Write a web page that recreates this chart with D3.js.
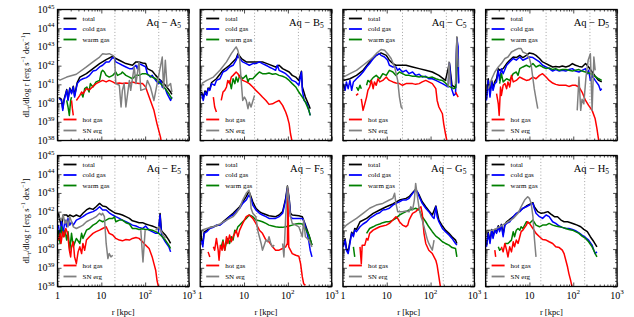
<!DOCTYPE html>
<html>
<head>
<meta charset="utf-8">
<script src="https://cdn.jsdelivr.net/npm/d3@7"></script>
<style>
body { margin: 0; background: #fff; }
text { font-family: "Liberation Serif", "DejaVu Serif", serif; }
</style>
</head>
<body>
<svg id="chart" width="634" height="317"></svg>
<script>
// halo names and R200 (kpc); dotted lines drawn at 0.1 R200 and R200
const panelNames = ["A", "B", "C", "D", "E", "F", "G", "H"];
const r200 = [204, 174, 229, 240, 204, 195, 195, 182];

// each point is [log10 r (kpc), log10 dL/dlog r (erg/s/dex)], null = gap
const totalL = [
  [[0.04,40.3],[0.09,40.2],[0.12,39.7],[0.15,40.2],[0.21,40.72],[0.24,40.2],[0.28,40.8],[0.32,40.55],[0.36,40.9],[0.39,40.4],[0.45,41.1],[0.51,41.39],[0.66,41.57],[0.81,41.84],[0.96,42.11],[1.11,42.32],[1.26,42.5],[1.33,42.38],[1.41,42.29],[1.56,42.11],[1.71,42.02],[1.79,42.2],[1.86,42.2],[1.94,42.14],[2.01,42.11],[2.05,41.84],[2.16,41.71],[2.24,41.48],[2.31,41.3],[2.39,41.13],[2.46,40.95],[2.58,40.59],[2.61,40.46]],
  [[0.03,40.6],[0.07,40.3],[0.11,40.65],[0.15,40.5],[0.18,40.8],[0.22,40.75],[0.26,41.1],[0.37,41.3],[0.52,41.75],[0.67,42.02],[0.82,42.38],[0.86,42.64],[0.94,42.38],[1.05,42.2],[1.27,42.2],[1.42,42.2],[1.57,42.07],[1.72,41.93],[1.80,42.02],[1.88,41.84],[2.03,41.66],[2.10,41.48],[2.18,41.39],[2.25,41.21],[2.31,41.7],[2.33,40.86],[2.40,40.32],[2.48,39.88],[2.51,39.7]],
  [[0.01,41.21],[0.16,41.3],[0.31,41.48],[0.46,41.75],[0.61,42.2],[0.76,42.55],[0.87,42.68],[0.99,42.55],[1.06,42.29],[1.14,42.11],[1.21,42.02],[1.29,42.02],[1.44,42.02],[1.59,41.93],[1.74,41.84],[1.89,41.75],[2.04,41.66],[2.19,41.48],[2.34,41.21],[2.43,42.15],[2.49,40.95],[2.57,40.82],[2.60,43.5],[2.64,41.1]],
  [[0.02,40.3],[0.06,41.3],[0.10,40.5],[0.14,41.2],[0.17,40.8],[0.21,41.15],[0.25,41.3],[0.29,41.84],[0.32,41.75],[0.40,41.84],[0.48,42.11],[0.55,42.29],[0.63,42.46],[0.70,42.43],[0.78,42.55],[0.85,42.43],[0.93,42.55],[1.00,42.68],[1.08,42.64],[1.15,42.55],[1.23,42.38],[1.30,42.2],[1.38,42.11],[1.45,42.02],[1.53,41.93],[1.60,41.96],[1.68,41.93],[1.75,41.98],[1.83,41.93],[1.90,41.98],[1.98,42.11],[2.05,42.02],[2.13,41.96],[2.20,41.93],[2.28,42.11],[2.35,41.93],[2.43,41.66],[2.50,41.43],[2.58,41.21],[2.65,41.13]],
  [[0.02,41.91],[0.09,41.19],[0.13,41.82],[0.21,41.82],[0.24,41.73],[0.28,41.82],[0.36,41.73],[0.43,41.82],[0.51,41.73],[0.58,41.91],[0.66,42.09],[0.73,42.18],[0.81,42.12],[0.88,42.26],[0.96,42.44],[1.03,42.3],[1.11,42.26],[1.18,42.12],[1.26,42.0],[1.33,41.91],[1.41,41.87],[1.48,41.82],[1.56,41.73],[1.64,41.64],[1.71,41.51],[1.79,41.46],[1.86,41.41],[1.94,41.41],[2.01,41.34],[2.09,41.28],[2.16,41.23],[2.24,41.16],[2.31,41.05],[2.34,41.9],[2.37,41.0],[2.39,40.93],[2.46,40.75],[2.54,40.48],[2.58,40.3]],
  [[0.01,41.01],[0.03,40.5],[0.06,40.3],[0.09,40.9],[0.15,41.0],[0.22,41.15],[0.30,41.2],[0.45,41.3],[0.52,41.46],[0.75,41.91],[0.90,42.26],[1.05,42.8],[1.11,43.1],[1.16,42.8],[1.20,42.53],[1.27,42.18],[1.35,42.0],[1.42,41.91],[1.57,41.78],[1.72,41.73],[1.80,41.82],[1.88,42.0],[1.95,42.71],[1.99,43.37],[2.03,42.71],[2.06,41.91],[2.10,41.82],[2.25,41.78],[2.33,41.73],[2.40,41.28],[2.48,40.75],[2.55,40.21]],
  [[0.01,40.2],[0.05,40.55],[0.08,40.05],[0.12,39.85],[0.16,40.4],[0.20,40.9],[0.24,40.75],[0.27,41.1],[0.31,41.05],[0.39,41.46],[0.54,41.64],[0.69,41.91],[0.84,42.09],[0.99,42.26],[1.14,42.41],[1.29,42.62],[1.44,42.71],[1.51,42.8],[1.59,43.01],[1.66,43.19],[1.74,42.89],[1.81,42.53],[1.89,42.26],[1.96,42.05],[2.04,41.82],[2.12,42.3],[2.19,41.55],[2.27,41.23],[2.34,41.01],[2.42,40.84],[2.49,40.66],[2.57,40.48],[2.60,40.3]],
  [[0.02,40.2],[0.06,40.9],[0.10,40.4],[0.14,41.05],[0.17,40.65],[0.21,41.05],[0.25,40.9],[0.29,41.25],[0.32,41.0],[0.36,41.32],[0.40,40.8],[0.44,41.32],[0.48,41.46],[0.63,41.73],[0.78,42.05],[0.93,42.3],[1.08,42.48],[1.11,42.26],[1.19,42.0],[1.27,41.91],[1.34,41.94],[1.42,42.0],[1.49,41.87],[1.57,41.73],[1.64,41.73],[1.72,41.55],[1.79,41.46],[1.87,41.46],[1.94,41.41],[2.02,41.34],[2.09,41.28],[2.17,41.19],[2.24,41.05],[2.32,40.93],[2.39,40.66],[2.47,40.39],[2.54,40.12]]
];

const coldL = [
  [[0.04,40.23],[0.09,40.14],[0.12,39.61],[0.15,40.14],[0.21,40.68],[0.24,40.14],[0.28,40.77],[0.32,40.5],[0.36,40.86],[0.39,40.32],[0.45,41.04],[0.51,41.21],[0.58,41.3],[0.66,41.36],[0.73,41.48],[0.81,41.71],[0.88,41.75],[0.96,41.93],[1.03,42.02],[1.11,42.2],[1.18,42.2],[1.26,42.43],[1.30,42.38],[1.33,42.2],[1.41,42.11],[1.48,42.02],[1.56,41.93],[1.64,41.84],[1.71,41.84],[1.79,42.02],[1.82,41.84],[1.86,42.11],[1.94,42.02],[2.01,41.93],[2.05,41.57],[2.12,41.39],[2.16,41.48],[2.24,41.21],[2.31,41.04],[2.35,41.21],[2.39,40.86],[2.46,40.77],[2.50,40.5],[2.58,40.14],[2.61,40.32]],
  [[0.03,40.5],[0.07,40.14],[0.11,40.59],[0.15,40.41],[0.18,40.77],[0.22,40.68],[0.26,41.04],[0.33,40.95],[0.37,41.21],[0.45,41.3],[0.52,41.66],[0.60,41.75],[0.67,41.93],[0.75,42.02],[0.82,42.29],[0.86,42.55],[0.90,42.38],[0.97,42.2],[1.05,42.11],[1.12,42.02],[1.20,42.11],[1.27,42.11],[1.35,42.2],[1.42,42.11],[1.50,42.02],[1.57,41.93],[1.65,41.84],[1.72,41.75],[1.76,42.02],[1.80,41.75],[1.88,41.66],[1.95,41.57],[2.03,41.39],[2.10,41.21],[2.18,41.13],[2.25,40.95],[2.31,41.66],[2.33,40.68],[2.37,40.14],[2.44,39.96],[2.51,39.34]],
  [[0.01,41.04],[0.05,40.68],[0.08,41.13],[0.12,40.77],[0.16,41.21],[0.20,40.68],[0.24,41.13],[0.31,41.3],[0.39,41.48],[0.46,41.66],[0.54,41.93],[0.61,42.11],[0.69,42.38],[0.76,42.55],[0.84,42.64],[0.87,42.55],[0.95,42.46],[1.02,42.29],[1.06,42.02],[1.14,41.93],[1.21,41.93],[1.25,41.75],[1.29,41.84],[1.36,41.66],[1.44,41.75],[1.51,41.57],[1.59,41.66],[1.66,41.48],[1.74,41.54],[1.81,41.39],[1.89,41.43],[1.96,41.3],[2.04,41.3],[2.12,41.21],[2.19,41.13],[2.27,41.04],[2.34,40.95],[2.40,40.86],[2.43,42.11],[2.48,40.77],[2.53,40.41],[2.57,40.5],[2.60,43.45],[2.63,43.0],[2.64,41.04]],
  [[0.02,40.14],[0.06,41.21],[0.10,40.32],[0.14,41.13],[0.17,40.68],[0.21,41.04],[0.25,41.13],[0.29,41.75],[0.32,41.21],[0.36,41.84],[0.40,41.57],[0.48,42.02],[0.55,42.2],[0.63,42.38],[0.70,42.29],[0.78,42.46],[0.85,42.29],[0.93,42.38],[1.00,42.46],[1.08,42.43],[1.15,42.32],[1.23,42.2],[1.30,42.02],[1.38,41.93],[1.45,41.84],[1.53,41.71],[1.60,41.79],[1.68,41.71],[1.75,41.75],[1.83,41.71],[1.90,41.79],[1.98,41.84],[2.05,41.71],[2.13,41.66],[2.20,41.75],[2.28,41.84],[2.32,41.57],[2.35,41.75],[2.39,41.21],[2.43,41.48],[2.50,41.21],[2.58,40.95],[2.62,40.68],[2.65,40.77]],
  [[0.02,41.28],[0.06,40.66],[0.09,41.46],[0.13,40.84],[0.17,41.55],[0.21,41.19],[0.24,41.64],[0.28,41.28],[0.32,41.46],[0.36,41.28],[0.43,41.55],[0.51,41.64],[0.58,41.73],[0.66,41.87],[0.73,41.94],[0.81,42.0],[0.88,42.09],[0.96,42.26],[1.03,42.09],[1.11,42.09],[1.18,41.94],[1.26,41.82],[1.33,41.73],[1.41,41.64],[1.48,41.55],[1.56,41.46],[1.64,41.37],[1.71,41.28],[1.79,41.23],[1.86,41.16],[1.94,41.1],[2.01,41.23],[2.09,41.01],[2.16,40.93],[2.24,40.84],[2.30,40.84],[2.34,41.82],[2.37,40.84],[2.39,40.66],[2.46,40.39],[2.54,40.12],[2.58,39.85]],
  [[0.03,40.48],[0.06,40.12],[0.09,40.84],[0.15,40.93],[0.22,41.1],[0.30,41.16],[0.37,41.28],[0.45,41.28],[0.52,41.41],[0.60,41.55],[0.67,41.73],[0.75,41.82],[0.82,42.0],[0.90,42.18],[0.97,42.44],[1.05,42.62],[1.11,42.89],[1.16,42.71],[1.20,42.35],[1.27,42.09],[1.35,41.91],[1.42,41.82],[1.50,41.73],[1.57,41.64],[1.65,41.64],[1.72,41.64],[1.80,41.73],[1.88,41.91],[1.95,42.62],[1.99,43.24],[2.03,42.62],[2.06,41.73],[2.10,41.64],[2.18,41.64],[2.25,41.64],[2.33,41.64],[2.37,41.46],[2.40,41.19],[2.44,40.84],[2.48,40.39],[2.51,39.94],[2.55,39.58]],
  [[0.01,40.12],[0.05,40.48],[0.08,39.94],[0.12,39.76],[0.16,40.3],[0.20,40.84],[0.24,40.66],[0.27,41.01],[0.31,40.93],[0.39,41.19],[0.46,41.34],[0.54,41.46],[0.61,41.64],[0.69,41.76],[0.76,41.87],[0.84,41.94],[0.91,42.09],[0.99,42.12],[1.06,42.18],[1.14,42.35],[1.21,42.44],[1.29,42.53],[1.36,42.62],[1.44,42.62],[1.51,42.71],[1.59,42.98],[1.66,43.15],[1.70,43.06],[1.74,42.8],[1.81,42.44],[1.89,42.18],[1.96,42.0],[2.04,41.73],[2.08,41.64],[2.12,42.26],[2.15,41.73],[2.19,41.46],[2.27,41.1],[2.34,40.93],[2.42,40.75],[2.49,40.57],[2.57,40.3],[2.60,40.21]],
  [[0.02,40.12],[0.06,40.84],[0.10,40.3],[0.14,41.01],[0.17,40.57],[0.21,41.01],[0.25,40.84],[0.29,41.19],[0.32,40.93],[0.36,41.28],[0.40,40.66],[0.44,41.28],[0.48,41.37],[0.55,41.46],[0.63,41.73],[0.70,41.91],[0.78,42.0],[0.85,42.18],[0.93,42.26],[1.00,42.35],[1.08,42.44],[1.11,42.18],[1.15,41.91],[1.23,41.73],[1.30,41.64],[1.38,41.82],[1.45,41.73],[1.53,41.46],[1.60,41.37],[1.68,41.23],[1.75,41.16],[1.83,41.1],[1.90,41.1],[1.98,41.05],[2.05,40.98],[2.13,40.87],[2.20,40.75],[2.28,40.62],[2.35,40.48],[2.43,40.21],[2.47,39.94],[2.50,39.76],[2.54,39.85]]
];

const warmL = [
  [[0.21,40.14],[0.24,39.79],[0.27,39.34],[0.30,40.14],[0.32,40.32],null,[0.55,40.5],[0.58,40.32],[0.62,40.77],[0.67,40.86],[0.72,40.59],[0.75,41.04],[0.81,40.86],[0.88,41.13],[0.96,41.21],[1.00,41.66],[1.03,41.75],[1.07,41.66],[1.11,41.48],[1.18,41.39],[1.26,41.48],[1.33,41.66],[1.37,41.48],[1.45,41.57],[1.48,41.66],[1.56,41.48],[1.64,41.39],[1.71,41.3],[1.79,41.48],[1.86,41.48],[1.94,41.57],[2.01,41.57],[2.09,41.48],[2.16,41.39],[2.24,41.3],[2.31,41.13],[2.39,40.95],[2.46,40.77],[2.54,40.5],[2.61,40.23]],
  [[0.67,41.21],[0.71,40.77],[0.75,41.3],[0.79,41.04],[0.82,41.39],[0.86,41.13],[0.90,41.48],[0.97,41.3],[1.05,41.48],[1.09,41.13],[1.12,41.3],[1.20,41.3],[1.27,41.48],[1.35,41.66],[1.42,41.57],[1.50,41.57],[1.57,41.61],[1.65,41.54],[1.72,41.57],[1.80,41.48],[1.88,41.43],[1.95,41.36],[2.03,41.21],[2.10,41.04],[2.18,40.86],[2.25,40.59],[2.33,40.32],[2.40,40.05],[2.48,39.61],[2.51,39.34]],
  [[0.31,40.86],[0.35,40.68],[0.39,40.95],[0.42,40.77],null,[0.54,40.95],[0.57,41.21],[0.61,41.13],[0.69,41.36],[0.76,41.48],[0.84,41.3],[0.91,41.57],[0.99,41.48],[1.06,41.75],[1.14,41.66],[1.21,41.48],[1.29,41.66],[1.36,41.57],[1.44,41.48],[1.51,41.48],[1.59,41.43],[1.66,41.43],[1.74,41.39],[1.81,41.43],[1.89,41.39],[1.96,41.36],[2.04,41.39],[2.12,41.3],[2.19,41.25],[2.27,41.21],[2.34,41.07],[2.42,40.89],[2.53,40.77],[2.57,40.82],[2.60,42.38],[2.63,42.29]],
  [[0.32,41.04],[0.36,41.57],[0.40,41.13],[0.48,41.3],[0.55,41.21],[0.63,41.57],[0.70,41.66],[0.74,41.48],[0.78,41.84],[0.85,41.93],[0.93,42.02],[1.00,41.93],[1.08,42.11],[1.15,41.93],[1.23,42.02],[1.30,41.93],[1.38,41.84],[1.45,41.88],[1.53,41.79],[1.60,41.84],[1.68,41.75],[1.75,41.79],[1.83,41.79],[1.90,41.75],[1.98,41.71],[2.05,41.75],[2.13,41.79],[2.20,41.71],[2.28,41.66],[2.35,41.61],[2.43,41.54],[2.50,41.43],[2.58,41.3],[2.65,41.21]],
  [[0.02,41.01],[0.06,40.3],[0.09,41.19],[0.13,40.66],[0.17,41.01],[0.21,40.48],[0.24,40.93],[0.28,39.94],[0.32,40.84],[0.36,40.12],[0.43,40.57],[0.51,40.3],[0.55,40.84],[0.58,40.57],[0.66,41.01],[0.73,41.1],[0.81,41.28],[0.88,41.37],[0.96,41.55],[1.03,41.46],[1.11,41.55],[1.18,41.64],[1.26,41.64],[1.30,41.73],[1.33,41.46],[1.41,41.55],[1.48,41.55],[1.56,41.41],[1.64,41.34],[1.71,41.1],[1.79,41.1],[1.86,41.05],[1.94,41.08],[2.01,41.05],[2.09,41.05],[2.16,41.01],[2.24,40.93],[2.31,40.84],[2.39,40.66],[2.46,40.48],[2.54,40.21],[2.58,40.03]],
  [[0.48,40.12],[0.52,40.48],[0.56,39.94],[0.60,40.39],[0.63,40.57],[0.67,40.3],[0.71,40.66],[0.75,40.48],[0.79,41.01],[0.82,40.93],[0.86,41.19],[0.90,41.28],[0.97,41.46],[1.05,41.64],[1.12,41.82],[1.20,41.73],[1.27,41.55],[1.35,41.51],[1.42,41.46],[1.50,41.37],[1.57,41.28],[1.65,41.23],[1.72,41.19],[1.80,41.16],[1.88,41.16],[1.95,41.19],[2.03,41.23],[2.10,41.28],[2.18,41.34],[2.25,41.37],[2.33,41.34],[2.40,41.1],[2.48,40.75],[2.55,40.21]],
  [[0.24,40.12],[0.27,39.58],null,[0.54,40.84],[0.61,41.1],[0.69,41.19],[0.76,41.28],[0.84,41.34],[0.91,41.41],[0.99,41.46],[1.06,41.46],[1.14,41.55],[1.21,41.64],[1.29,41.82],[1.36,41.91],[1.44,42.0],[1.51,42.09],[1.59,42.12],[1.66,42.18],[1.74,42.09],[1.81,41.73],[1.89,41.46],[1.96,41.19],[2.04,40.93],[2.12,40.69],[2.19,40.57],[2.27,40.39],[2.34,40.3],[2.42,40.21],[2.49,40.08],[2.57,40.03],[2.60,39.58]],
  [[0.29,40.12],[0.32,39.94],[0.36,40.03],null,[0.44,40.3],[0.51,40.3],[0.59,40.48],[0.63,40.93],[0.66,40.66],[0.70,41.01],[0.74,41.1],[0.78,41.01],[0.81,41.19],[0.85,41.1],[0.93,41.46],[1.00,41.37],[1.04,41.46],[1.08,41.55],[1.15,41.28],[1.23,41.19],[1.30,41.28],[1.38,41.28],[1.45,41.37],[1.53,41.28],[1.60,41.23],[1.68,41.19],[1.75,41.16],[1.83,41.1],[1.90,41.05],[1.98,41.01],[2.05,40.93],[2.13,40.84],[2.20,40.69],[2.28,40.57],[2.35,40.39],[2.43,40.12],[2.50,39.76],[2.54,39.58]]
];

const hotL = [
  [[0.32,40.14],[0.34,39.7],[0.36,39.34],null,[0.43,40.14],[0.51,40.41],[0.55,40.59],[0.58,40.5],[0.66,40.77],[0.73,40.71],[0.81,40.89],[0.88,41.04],[0.96,41.13],[1.03,41.21],[1.11,41.13],[1.18,41.21],[1.26,41.13],[1.33,41.04],[1.41,41.07],[1.48,41.04],[1.56,41.07],[1.64,41.04],[1.71,41.13],[1.79,41.07],[1.86,41.04],[1.94,41.04],[2.01,40.86],[2.05,40.59],[2.12,40.14],[2.20,39.61],[2.27,38.89],[2.35,38.18],[2.37,37.9]],
  [[0.30,40.32],[0.33,39.79],[0.37,39.52],null,[0.48,40.14],[0.52,40.59],[0.56,40.68],[0.60,40.86],[0.63,41.21],[0.67,41.04],[0.71,41.39],[0.75,41.48],[0.82,41.66],[0.86,41.57],[0.90,41.39],[0.97,41.21],[1.05,41.13],[1.12,41.04],[1.20,40.86],[1.27,40.68],[1.35,40.5],[1.42,40.32],[1.50,40.14],[1.57,39.93],[1.65,39.96],[1.72,40.05],[1.80,40.14],[1.88,39.88],[1.95,39.52],[1.99,39.25],[2.03,38.89],[2.06,38.36],[2.10,37.9]],
  [[0.30,40.41],[0.35,40.5],null,[0.42,40.23],[0.46,39.61],[0.50,39.96],[0.54,40.32],[0.57,40.68],[0.61,40.86],[0.65,41.21],[0.69,40.77],[0.72,41.13],[0.76,40.95],[0.80,41.3],[0.84,41.13],[0.91,41.21],[0.99,41.39],[1.02,41.3],[1.06,41.21],[1.14,41.13],[1.21,41.07],[1.29,41.04],[1.36,40.95],[1.44,41.04],[1.51,41.04],[1.59,41.04],[1.66,41.0],[1.74,41.04],[1.81,41.13],[1.89,41.21],[1.96,41.13],[2.04,41.04],[2.12,40.77],[2.15,40.14],[2.19,39.79],[2.27,39.43],[2.30,38.89],[2.34,38.36],[2.38,37.9],null,[2.57,40.59],[2.63,40.32]],
  [[0.25,40.5],[0.29,39.96],[0.31,39.34],[0.34,40.86],[0.36,40.41],[0.40,40.95],[0.44,41.04],[0.48,40.77],[0.51,41.13],[0.55,40.86],[0.59,41.48],[0.63,41.13],[0.70,41.21],[0.78,41.39],[0.85,41.3],[0.93,41.21],[1.00,41.25],[1.08,41.39],[1.15,41.3],[1.23,41.48],[1.30,41.57],[1.38,41.39],[1.45,41.21],[1.53,41.07],[1.60,41.0],[1.68,40.95],[1.75,40.95],[1.83,40.95],[1.90,40.89],[1.98,40.95],[2.05,40.95],[2.13,40.86],[2.20,40.59],[2.28,40.14],[2.35,39.88],[2.43,39.61],[2.50,39.16],[2.54,38.63],[2.58,38.0]],
  [[0.02,40.48],[0.06,40.84],[0.08,40.3],[0.12,40.93],[0.15,40.66],[0.19,41.1],[0.23,40.84],[0.27,39.94],[0.30,39.58],[0.32,40.12],[0.36,40.39],[0.39,39.58],[0.43,39.22],[0.47,39.85],[0.51,40.12],[0.55,39.76],[0.58,40.3],[0.62,39.94],[0.66,40.48],[0.73,40.66],[0.81,40.84],[0.88,40.93],[0.96,41.01],[1.03,41.1],[1.11,41.19],[1.18,40.84],[1.26,40.75],[1.33,40.57],[1.41,40.48],[1.48,40.44],[1.56,40.51],[1.64,40.48],[1.71,40.57],[1.79,40.62],[1.86,40.57],[1.94,40.39],[2.01,40.21],[2.09,40.03],[2.16,39.58],[2.20,39.22],[2.24,38.87],[2.27,38.33],[2.31,37.9]],
  [[0.18,39.85],[0.22,39.58],null,[0.30,40.12],[0.33,39.94],[0.37,40.57],[0.41,39.94],[0.43,39.4],[0.46,40.21],[0.50,39.94],[0.52,40.39],[0.56,39.94],[0.60,40.66],[0.63,40.3],[0.67,40.75],[0.71,40.39],[0.75,40.66],[0.79,40.84],[0.82,41.01],[0.86,40.66],[0.90,41.01],[0.97,41.37],[1.05,41.73],[1.11,41.82],[1.16,41.73],[1.20,41.64],[1.27,41.37],[1.35,41.01],[1.42,40.84],[1.50,40.48],[1.57,40.39],[1.65,40.12],[1.72,39.94],[1.80,39.94],[1.88,40.03],[1.95,40.12],[1.99,40.3],[2.00,43.15],[2.02,40.12],[2.10,39.76],[2.18,39.67],[2.25,39.62],[2.29,39.22],[2.33,38.51],[2.36,38.15],[2.40,38.06]],
  [[0.39,40.12],[0.42,39.22],[0.44,40.21],[0.50,40.21],[0.54,40.57],[0.57,40.48],[0.61,40.84],[0.69,41.01],[0.76,41.1],[0.84,41.19],[0.91,41.23],[0.99,41.28],[1.06,41.37],[1.14,41.55],[1.21,41.73],[1.25,41.64],[1.29,41.46],[1.36,41.28],[1.44,41.19],[1.48,41.28],[1.51,41.55],[1.55,41.73],[1.59,41.91],[1.66,42.0],[1.74,42.18],[1.78,42.26],[1.81,41.91],[1.85,40.84],[1.89,40.3],[1.96,39.94],[2.04,39.76],[2.12,39.4],[2.15,39.13],[2.19,38.51],[2.23,37.9]],
  [[0.21,39.94],[0.23,39.58],null,[0.36,40.12],[0.40,39.85],[0.44,40.3],[0.48,39.94],[0.51,39.58],[0.55,40.12],[0.59,39.85],[0.63,40.39],[0.66,40.12],[0.70,40.48],[0.74,40.3],[0.78,40.66],[0.81,40.93],[0.85,41.01],[0.93,41.28],[0.96,41.46],[1.00,41.37],[1.08,41.1],[1.15,40.84],[1.23,40.66],[1.30,40.51],[1.38,40.48],[1.45,40.39],[1.53,40.3],[1.60,40.12],[1.68,40.08],[1.75,39.94],[1.79,39.76],[1.83,39.4],[1.87,39.04],[1.90,38.69],[1.94,38.33],[1.98,37.9]]
];

const snL = [
  [[0.04,41.21],[0.21,41.39],[0.43,41.54],[0.66,41.93],[0.81,42.2],[0.96,42.46],[1.03,42.64],[1.11,42.61],[1.18,42.64],[1.26,42.55],[1.30,42.46],[1.33,41.04],[1.41,40.95],[1.45,39.79],[1.48,40.68],[1.52,41.04],[1.56,39.79],[1.64,41.21],[1.67,40.68],[1.75,41.93],[1.79,41.04],[1.86,42.2],[1.90,40.68],[2.01,40.77],[2.05,41.21],[2.12,40.86],[2.20,40.14],[2.31,41.48],[2.39,42.46],[2.42,40.77],[2.46,42.29],[2.50,40.86],[2.58,41.04],[2.61,40.59]],
  [[0.03,41.04],[0.15,41.21],[0.30,41.39],[0.45,41.75],[0.60,42.2],[0.71,42.64],[0.79,42.91],[0.82,43.0],[0.86,42.82],[0.90,42.38],[0.94,41.04],[0.97,40.14],[1.01,40.32],[1.05,40.14],[1.09,39.7],[1.12,40.05],[1.16,39.79],[1.24,40.41]],
  [[0.01,41.39],[0.16,41.57],[0.31,41.75],[0.46,42.02],[0.61,42.29],[0.69,42.46],[0.76,42.64],[0.87,42.86],[0.95,42.82],[1.02,42.64],[1.10,42.38],[1.18,41.93],[1.25,41.21],[1.29,40.32],[1.33,39.79],[1.36,39.7],null,[2.40,40.86],[2.42,42.2],[2.45,41.0],null,[2.57,41.0],[2.60,43.54],[2.63,41.93]],
  [[0.06,40.77],[0.14,41.3],[0.21,41.66],[0.29,41.93],[0.36,42.11],[0.44,42.38],[0.51,42.46],[0.59,42.73],[0.66,42.82],[0.74,42.91],[0.81,42.91],[0.85,42.73],[0.93,42.64],[1.00,42.38],[1.04,42.02],[1.08,41.3],[1.11,40.77],[1.15,40.23],[1.19,39.7],null,[2.09,39.61],[2.13,41.39],[2.17,39.61],[2.20,40.2],[2.24,39.96],[2.29,41.39],[2.34,42.29],[2.39,42.64],[2.43,39.61],[2.47,42.46],[2.50,41.75]],
  [[0.02,41.73],[0.06,41.64],[0.09,41.55],[0.13,41.82],[0.17,41.37],[0.21,41.55],[0.24,41.19],[0.28,41.73],[0.36,41.19],[0.43,41.1],[0.51,41.19],[0.58,41.28],[0.66,41.46],[0.73,41.55],[0.81,41.64],[0.88,41.73],[0.96,41.91],[1.00,41.82],[1.03,41.91],[1.07,41.73],[1.11,40.3],[1.15,39.49],[1.18,39.76],[1.22,39.58],[1.26,39.67],null,[1.90,41.01],[1.95,39.31],[2.00,41.01],null,[2.24,41.01],[2.31,41.19],[2.39,40.84],[2.46,40.57]],
  [[0.03,41.01],[0.15,41.1],[0.30,41.19],[0.45,41.34],[0.60,41.55],[0.75,41.73],[0.82,41.91],[0.90,42.18],[0.97,42.62],[1.05,42.98],[1.11,43.15],[1.14,42.89],[1.16,42.18],[1.20,41.91],[1.27,41.73],[1.31,41.01],[1.35,40.66],[1.39,40.3],[1.42,39.94],[1.46,40.21],[1.50,40.48],[1.54,40.39],[1.57,40.66],[1.61,40.3],[1.65,40.12],[1.69,40.21],null,[1.88,40.3],[1.91,39.58],[1.95,41.73],[1.99,43.33],[2.03,42.44],[2.06,41.73],[2.10,41.37],[2.18,41.28],[2.25,41.19],[2.33,40.66],[2.36,41.55],[2.40,40.66],[2.48,40.48],[2.55,40.12]],
  [[0.01,41.1],[0.08,41.28],[0.16,41.41],[0.31,41.64],[0.46,41.91],[0.61,42.18],[0.76,42.35],[0.91,42.44],[1.06,42.62],[1.14,42.71],[1.18,42.98],[1.21,42.44],[1.25,42.0],[1.29,42.0],[1.36,42.0],[1.44,42.03],[1.51,42.0],[1.55,42.26],[1.59,42.09],[1.63,42.62],[1.66,43.51],[1.70,42.8],[1.74,42.18],[1.78,41.73],[1.81,41.55],[1.85,41.19],[1.89,40.84],[1.93,40.48],[1.96,40.3],[2.00,40.12],[2.04,39.94],[2.08,40.48]],
  [[0.02,41.01],[0.17,41.01],[0.32,41.19],[0.48,41.41],[0.63,41.64],[0.74,41.91],[0.81,42.26],[0.89,42.62],[0.96,42.8],[1.00,42.71],[1.04,42.44],[1.08,41.73],[1.11,40.66],[1.15,39.58]]
];

const xTickExp = [0, 1, 2, 3];
const yTickExp = [38, 39, 40, 41, 42, 43, 44, 45];

const series = [
  { label: "total", color: "#000000", data: totalL },
  { label: "cold gas", color: "#0000ff", data: coldL },
  { label: "warm gas", color: "#008000", data: warmL },
  { label: "hot gas", color: "#ff0000", data: hotL },
  { label: "SN erg", color: "#808080", data: snL }
];

const W = 131.5, H = 131;
const colX = [57.5, 200.2, 342.9, 485.6];
const rowY = [9.5, 155.5];

const svg = d3.select("#chart");
const x = d3.scaleLog().domain([1, 1000]).range([0, W]);
const y = d3.scaleLog().domain([1e38, 1e45]).range([H, 0]);
const line = d3.line()
    .defined(d => d !== null)
    .x(d => x(Math.pow(10, d[0])))
    .y(d => y(Math.pow(10, d[1])));

const xMajor = xTickExp.map(e => Math.pow(10, e));
const yMajor = yTickExp.map(e => Math.pow(10, e));
const xMinor = [], yMinor = [];
xTickExp.slice(0, -1).forEach(e => { for (let k = 2; k < 10; k++) xMinor.push(k * Math.pow(10, e)); });
yTickExp.slice(0, -1).forEach(e => { for (let k = 2; k < 10; k++) yMinor.push(k * Math.pow(10, e)); });

function tickGroup(g, axis, tr) {
    const a = g.append("g").attr("transform", tr).call(axis);
    a.select(".domain").remove();
    a.selectAll("text").remove();
    a.selectAll("line").attr("stroke", "#000").attr("stroke-width", 0.7);
}

function powText(g, px, py, exp, anchor) {
    const t = g.append("text")
        .attr("x", px).attr("y", py)
        .attr("text-anchor", anchor)
        .attr("font-size", 10);
    if (exp === 0) { t.text("1"); return; }
    if (exp === 1) { t.text("10"); return; }
    t.append("tspan").text("10");
    t.append("tspan").attr("font-size", 7).attr("dy", -4.5).text(exp);
}

panelNames.forEach((name, i) => {
    const col = i % 4, row = Math.floor(i / 4);
    const g = svg.append("g").attr("transform", `translate(${colX[col]},${rowY[row]})`);

    g.append("clipPath").attr("id", "clip" + i)
        .append("rect").attr("width", W).attr("height", H);

    // 0.1 R200 and R200
    [r200[i] / 10, r200[i]].forEach(r => {
        g.append("line")
            .attr("x1", x(r)).attr("x2", x(r))
            .attr("y1", 0).attr("y2", H)
            .attr("stroke", "#999")
            .attr("stroke-width", 0.9)
            .attr("stroke-dasharray", "1,2.2");
    });

    const plot = g.append("g").attr("clip-path", `url(#clip${i})`);
    series.forEach(s => {
        plot.append("path")
            .datum(s.data[i])
            .attr("d", line)
            .attr("fill", "none")
            .attr("stroke", s.color)
            .attr("stroke-width", 1.5)
            .attr("stroke-linejoin", "round");
    });

    // inward ticks on all four sides
    tickGroup(g, d3.axisBottom(x).tickValues(xMajor).tickSize(-4), `translate(0,${H})`);
    tickGroup(g, d3.axisBottom(x).tickValues(xMinor).tickSize(-2), `translate(0,${H})`);
    tickGroup(g, d3.axisTop(x).tickValues(xMajor).tickSize(-4), "translate(0,0)");
    tickGroup(g, d3.axisTop(x).tickValues(xMinor).tickSize(-2), "translate(0,0)");
    tickGroup(g, d3.axisLeft(y).tickValues(yMajor).tickSize(-4), "translate(0,0)");
    tickGroup(g, d3.axisLeft(y).tickValues(yMinor).tickSize(-2), "translate(0,0)");
    tickGroup(g, d3.axisRight(y).tickValues(yMajor).tickSize(-4), `translate(${W},0)`);
    tickGroup(g, d3.axisRight(y).tickValues(yMinor).tickSize(-2), `translate(${W},0)`);

    g.append("rect")
        .attr("width", W).attr("height", H)
        .attr("fill", "none")
        .attr("stroke", "#000")
        .attr("stroke-width", 1.3);

    // legends: first three top-left, last two bottom-left
    const legY = [9, 19.5, 30, 110, 121];
    series.forEach((s, k) => {
        g.append("line")
            .attr("x1", 6).attr("x2", 19)
            .attr("y1", legY[k]).attr("y2", legY[k])
            .attr("stroke", s.color)
            .attr("stroke-width", 1.8);
        g.append("text")
            .attr("x", 25).attr("y", legY[k] + 2.4)
            .attr("font-size", 7)
            .text(s.label);
    });

    // panel title
    const title = g.append("text")
        .attr("x", W - 8).attr("y", 16)
        .attr("text-anchor", "end")
        .attr("font-size", 10.5);
    title.append("tspan").text("Aq \u2212 " + name);
    title.append("tspan").attr("font-size", 7.5).attr("dy", 2.5).text("5");

    if (col === 0) {
        yTickExp.forEach(e => powText(g, -3, y(Math.pow(10, e)) + 3.5, e, "end"));
        const lab = g.append("text")
            .attr("transform", `translate(-29,${H / 2}) rotate(-90)`)
            .attr("text-anchor", "middle")
            .attr("font-size", 8.5);
        lab.append("tspan").text("dL");
        lab.append("tspan").attr("font-size", 6).attr("dy", 2).text("r");
        lab.append("tspan").attr("dy", -2).text("/dlog r [erg s");
        lab.append("tspan").attr("font-size", 6).attr("dy", -3.5).text("\u22121");
        lab.append("tspan").attr("dy", 3.5).text(" dex");
        lab.append("tspan").attr("font-size", 6).attr("dy", -3.5).text("\u22121");
        lab.append("tspan").attr("dy", 3.5).text("]");
    }
    if (row === 1) {
        xTickExp.forEach(e => powText(g, x(Math.pow(10, e)), H + 12, e, "middle"));
        g.append("text")
            .attr("x", W / 2).attr("y", H + 28)
            .attr("text-anchor", "middle")
            .attr("font-size", 8.5)
            .text("r [kpc]");
    }
});
</script>
</body>
</html>
